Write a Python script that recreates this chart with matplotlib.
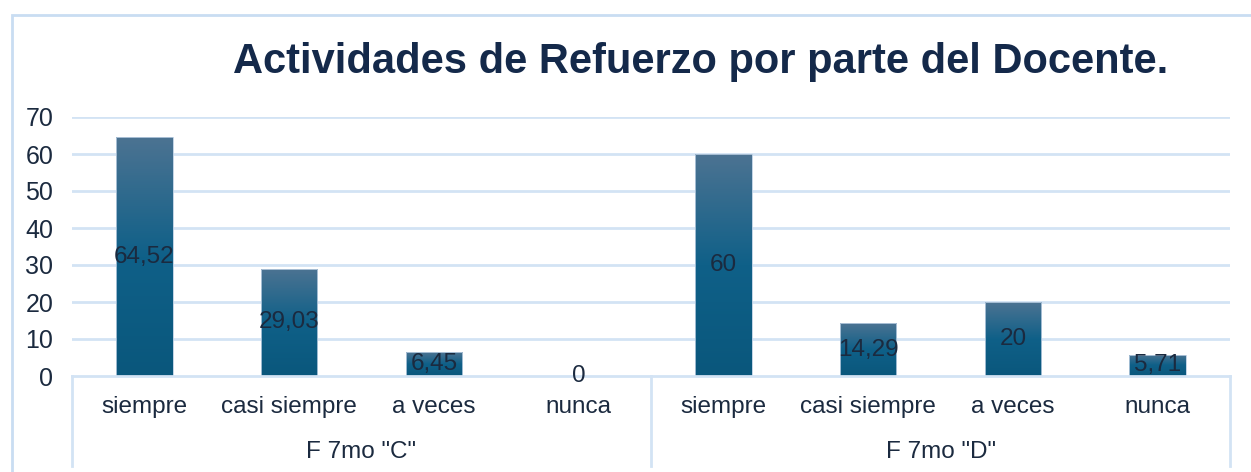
import matplotlib
matplotlib.use("Agg")
import matplotlib.pyplot as plt
import numpy as np
from matplotlib.patches import Rectangle
from matplotlib.colors import LinearSegmentedColormap
import matplotlib.transforms as mtransforms

plt.rcParams['font.family'] = ['Liberation Sans', 'DejaVu Sans']

categories = ["siempre", "casi siempre", "a veces", "nunca",
              "siempre", "casi siempre", "a veces", "nunca"]
groups = ['F 7mo "C"', 'F 7mo "D"']
values = [64.52, 29.03, 6.45, 0, 60, 14.29, 20, 5.71]
value_labels = ["64,52", "29,03", "6,45", "0", "60", "14,29", "20", "5,71"]
title = "Actividades de Refuerzo por parte del Docente."

W, H = 1251, 472
fig = plt.figure(figsize=(W / 100, H / 100), dpi=100)

# outer chart frame
frame_col = "#C9DDF2"
fig.patches.append(Rectangle((12 / W, -0.05), 1.0, (H - 15) / H + 0.05,
                             transform=fig.transFigure, fill=False,
                             edgecolor=frame_col, linewidth=2))

left, right = 72 / W, 1230 / W
bottom, top = (H - 376) / H, (H - 117) / H
ax = fig.add_axes([left, bottom, right - left, top - bottom])

grid_col = "#D3E3F4"
text_col = "#1B2A3F"
ax.set_ylim(0, 70)
ax.set_xlim(-0.5, len(categories) - 0.5)
ax.set_yticks(range(0, 71, 10))
for y in range(10, 71, 10):
    ax.axhline(y, color=grid_col, linewidth=2, zorder=0)
ax.axhline(0, color=grid_col, linewidth=2, zorder=3, clip_on=False)
for s in ax.spines.values():
    s.set_visible(False)
ax.tick_params(axis='y', length=0, pad=13.5, labelsize=18, labelcolor=text_col)
ax.tick_params(axis='x', length=0, pad=14.5, labelsize=17.5, labelcolor=text_col)
ax.set_xticks(range(len(categories)))
ax.set_xticklabels(categories)

cmap = LinearSegmentedColormap.from_list("g", ["#0A577C", "#0F6088", "#4C7392"])
grad = np.linspace(0, 1, 256).reshape(-1, 1)
bw = 0.39
for i, v in enumerate(values):
    if v <= 0:
        continue
    r = Rectangle((i - bw / 2, 0), bw, v, facecolor="none", edgecolor="#B8CCE0",
                  linewidth=0.6, zorder=2)
    ax.add_patch(r)
    im = ax.imshow(grad, cmap=cmap, origin='lower', aspect='auto',
                   extent=(i - bw / 2, i + bw / 2, 0, v), zorder=1)
    im.set_clip_path(r)

for i, (v, lab) in enumerate(zip(values, value_labels)):
    ax.text(i, v / 2, lab, ha='center', va='center', fontsize=17.5,
            color=text_col, zorder=4)

ax.set_xlim(-0.5, len(categories) - 0.5)
ax.set_ylim(0, 70)

# group separators and labels
trans = mtransforms.blended_transform_factory(ax.transData, ax.transAxes)
ybot = -90 / (376 - 117)
for xb in [-0.5, 3.5, 7.5]:
    ax.plot([xb, xb], [0, ybot], transform=trans, color=grid_col,
            linewidth=2, clip_on=False)
for g, gname in enumerate(groups):
    ax.text(g * 4 + 1.5, -(452 - 376) / (376 - 117), gname, transform=trans,
            ha='center', va='center', fontsize=17.5, color=text_col)

fig.text(701 / W, (H - 62) / H, title, ha='center', va='center',
         fontsize=30, fontweight='bold', color="#14294A")

fig.savefig("out.png", dpi=100)
